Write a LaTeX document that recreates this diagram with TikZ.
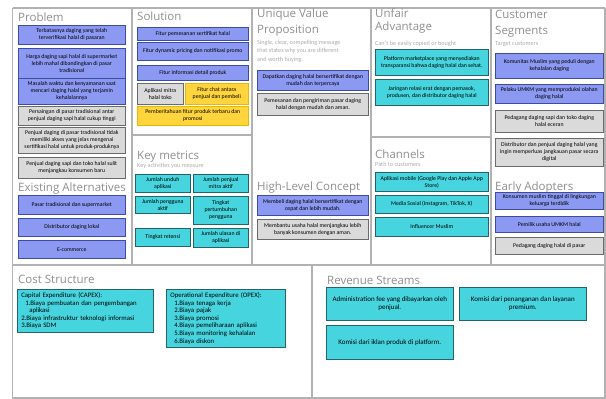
\documentclass[tikz,border=0pt]{standalone}
\usepackage{fontspec}
\setmainfont{Carlito}
\newfontfamily\headfont{Open Sans}
\usetikzlibrary{positioning}
\hyphenpenalty=10000
\exhyphenpenalty=10000

\definecolor{framegray}{HTML}{B2B2B2}
\definecolor{headgray}{HTML}{8E8E8E}
\definecolor{subgray}{HTML}{ABABAB}
\definecolor{pblue}{HTML}{8C99F2}
\definecolor{pblueline}{HTML}{3D4C9E}
\definecolor{pgray}{HTML}{DADADA}
\definecolor{pgrayline}{HTML}{6A6A6A}
\definecolor{pyellow}{HTML}{FFD43C}
\definecolor{pyellowline}{HTML}{E8B800}
\definecolor{pcyan}{HTML}{46D5DE}
\definecolor{pcyanline}{HTML}{24646A}

\tikzset{
  card/.style 2 args={anchor=north west, minimum width=#1, minimum height=#2,
    text width=#1-8, inner xsep=2pt, inner ysep=1pt, align=flush center,
    font=\fontsize{5.8}{7}\selectfont, line width=0.6pt},
  bluecard/.style={fill=pblue, draw=pblueline},
  graycard/.style={fill=pgray, draw=pgrayline},
  yellowcard/.style={fill=pyellow, draw=pyellowline},
  cyancard/.style={fill=pcyan, draw=pcyanline},
  bigtext/.style={font=\fontsize{7}{8}\selectfont},
  costcard/.style={align=left, font=\fontsize{6.8}{7.6}\selectfont},
  heading/.style={anchor=base west, inner sep=0pt, text=headgray, align=left,
    font=\headfont\fontsize{11.5}{16}\selectfont},
  subline/.style={anchor=base west, inner sep=0pt, text=subgray, align=left,
    font=\fontsize{6.2}{8.5}\selectfont},
  frame/.style={draw=framegray, line width=1.2pt}
}

\begin{document}
\begin{tikzpicture}[x=1pt, y=-1pt]
  \useasboundingbox (0,0) rectangle (606,399);

  % canvas grid
  \draw[frame] (12.5,8) -- (605,8);
  \foreach \gx in {12.5,132,252,371,491,605}
    \draw[frame] (\gx,8) -- (\gx,265);
  \draw[frame] (132,135) -- (252,135);
  \draw[frame] (371,137) -- (491,137);
  \draw[frame] (12.5,265) rectangle (605,398);
  \draw[frame] (312,265) -- (312,398);

  % problem
  \node[heading] (hpr) at (18,21) {Problem};
  \node[card={107}{19}, bluecard] (pr1) at (18,25) {Terbatasnya daging yang telah terverifikasi halal di pasaran};
  \node[card={107}{30}, bluecard] (pr2) at (18,48) {Harga daging sapi halal di supermarket lebih mahal dibandingkan di pasar tradisional};
  \node[card={107}{26}, bluecard] (pr3) at (18,78) {Masalah waktu dan kenyamanan saat mencari daging halal yang terjamin kehalalannya};
  \node[card={107}{19}, graycard] (pr4) at (18,106) {Persaingan di pasar tradisional antar penjual daging sapi halal cukup tinggi};
  \node[card={107}{26}, graycard] (pr5) at (18,127) {Penjual daging di pasar tradisional tidak memiliki akses yang jelas mengenai sertifikasi halal untuk produk-produknya};
  \node[card={107}{21}, graycard] (pr6) at (18,157) {Penjual daging sapi dan toko halal sulit menjangkau konsumen baru};
  \node[heading] (hea) at (18,191) {Existing Alternatives};
  \node[card={107}{19}, bluecard] (ea1) at (18,195) {Pasar tradisional dan supermarket};
  \node[card={107}{18}, bluecard] (ea2) at (18,218) {Distributor daging lokal};
  \node[card={107}{18}, bluecard] (ea3) at (18,240) {E-commerce};

  % solution and key metrics
  \node[heading] (hso) at (137,20) {Solution};
  \node[card={111}{13}, bluecard] (so1) at (137,27) {Fitur pemesanan sertifikat halal};
  \node[card={111}{18}, bluecard] (so2) at (137,42) {Fitur dynamic pricing dan notifikasi promo};
  \node[card={111}{15}, bluecard] (so3) at (137,65) {Fitur informasi detail produk};
  \node[card={46}{21}, graycard] (so4) at (137,83) {Aplikasi mitra halal toko};
  \node[card={63}{21}, yellowcard] (so5) at (185,83) {Fitur chat antara penjual dan pembeli};
  \node[card={111}{19}, yellowcard] (so6) at (137,106) {Pemberitahuan fitur produk terbaru dan promosi};
  \node[heading] (hkm) at (137,159) {Key metrics};
  \node[subline] (skm) at (137,167) {Key activities you measure};
  \node[card={55}{18}, cyancard] (km1) at (135,174) {Jumlah unduh aplikasi};
  \node[card={55}{18}, cyancard] (km2) at (193,174) {Jumlah penjual mitra aktif};
  \node[card={55}{17}, cyancard] (km3) at (135,196) {Jumlah pengguna aktif};
  \node[card={55}{28}, cyancard] (km4) at (193,196) {Tingkat pertumbuhan pengguna};
  \node[card={55}{18}, cyancard] (km5) at (135,228) {Tingkat retensi};
  \node[card={55}{19}, cyancard] (km6) at (193,228) {Jumlah ulasan di aplikasi};

  % unique value proposition
  \node[heading] (huv) at (257,33) {Unique Value\\Proposition};
  \node[subline] (suv) at (257,61) {Single, clear, compelling message\\that states why you are different\\and worth buying.};
  \node[card={111}{20}, bluecard] (uv1) at (257,70) {Dapatkan daging halal bersertifikat dengan mudah dan terpercaya};
  \node[card={111}{22}, graycard] (uv2) at (257,93) {Pemesanan dan pengiriman pasar daging halal dengan mudah dan aman.};
  \node[heading] (hhl) at (257,190) {High-Level Concept};
  \node[card={111}{20}, bluecard] (hl1) at (257,195) {Membeli daging halal bersertifikat dengan cepat dan lebih mudah.};
  \node[card={111}{20}, graycard] (hl2) at (257,219) {Membantu usaha halal menjangkau lebih banyak konsumen dengan aman.};

  % unfair advantage and channels
  \node[heading, font=\headfont\fontsize{11.5}{13}\selectfont] (hua) at (375,30) {Unfair\\Advantage};
  \node[subline] (sua) at (375,45) {Can't be easily copied or bought};
  \node[card={113}{26}, cyancard] (ua1) at (375,49) {Platform marketplace yang menyediakan transparansi bahwa daging halal dan sehat.};
  \node[card={113}{26}, cyancard] (ua2) at (375,79) {Jaringan relasi erat dengan pemasok, produsen, dan distributor daging halal};
  \node[heading] (hch) at (375,158) {Channels};
  \node[subline] (sch) at (375,166) {Path to customers};
  \node[card={113}{19}, cyancard] (ch1) at (375,172) {Aplikasi mobile (Google Play dan Apple App Store)};
  \node[card={113}{18}, cyancard] (ch2) at (375,195) {Media Sosial (Instagram, TikTok, X)};
  \node[card={113}{19}, cyancard] (ch3) at (375,217) {Influencer Muslim};

  % customer segments and early adopters
  \node[heading] (hcs) at (495,34) {Customer\\Segments};
  \node[subline] (scs) at (495,45) {Target customers};
  \node[card={108}{25}, bluecard] (cs1) at (495,53) {Komunitas Muslim yang peduli dengan kehalalan daging};
  \node[card={108}{19}, bluecard] (cs2) at (495,84) {Pelaku UMKM yang memproduksi olahan daging halal};
  \node[card={108}{22}, graycard] (cs3) at (495,110) {Pedagang daging sapi dan toko daging halal eceran};
  \node[card={108}{28}, graycard] (cs4) at (495,138) {Distributor dan penjual daging halal yang ingin memperluas jangkauan pasar secara digital};
  \node[heading] (hadp) at (495,190) {Early Adopters};
  \node[card={108}{17}, bluecard] (ad1) at (495,192) {Konsumen muslim tinggal di lingkungan keluarga terdidik};
  \node[card={108}{16}, bluecard] (ad2) at (495,216) {Pemilik usaha UMKM halal};
  \node[card={108}{17}, graycard] (ad3) at (495,237) {Pedagang daging halal di pasar};

  % cost structure
  \node[heading] (hco) at (18,283) {Cost Structure};
  \node[card={136}{43}, cyancard, costcard] (co1) at (17,289) {Capital Expenditure (CAPEX):\\
    \hspace*{4pt}1.Biaya pembuatan dan pengembangan\\
    \hspace*{8pt}aplikasi\\
    2.Biaya infrastruktur teknologi informasi\\
    3.Biaya SDM};
  \node[card={119}{58}, cyancard, costcard] (co2) at (166,289) {Operational Expenditure (OPEX):\\
    \hspace*{4pt}1.Biaya tenaga kerja\\
    \hspace*{4pt}2.Biaya pajak\\
    \hspace*{4pt}3.Biaya promosi\\
    \hspace*{4pt}4.Biaya pemeliharaan aplikasi\\
    \hspace*{4pt}5.Biaya monitoring kehalalan\\
    \hspace*{4pt}6.Biaya diskon};

  % revenue streams
  \node[heading] (hrv) at (327,284) {Revenue Streams};
  \node[card={127}{33}, cyancard, bigtext] (rv1) at (326,287) {Administration fee yang dibayarkan oleh penjual.};
  \node[card={127}{33}, cyancard, bigtext] (rv2) at (459,287) {Komisi dari penanganan dan layanan premium.};
  \node[card={127}{34}, cyancard, bigtext] (rv3) at (326,325) {Komisi dari iklan produk di platform.};
\end{tikzpicture}
\end{document}
